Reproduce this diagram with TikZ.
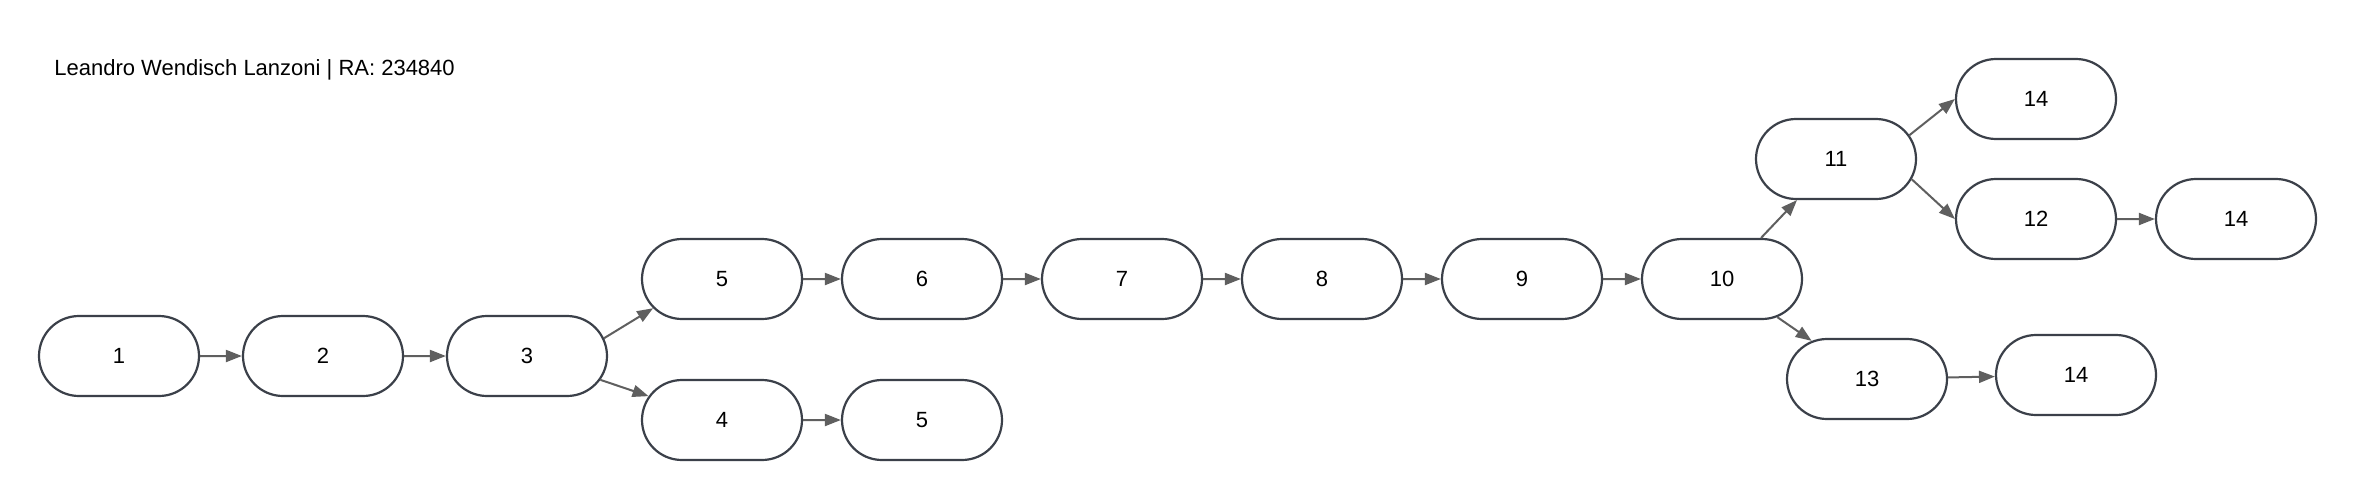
\documentclass[tikz,border=0pt]{standalone}
\usepackage{fontspec}
\setmainfont{Liberation Sans}
\usepackage{tikz}
\usetikzlibrary{shapes.misc,arrows.meta,positioning}

\definecolor{nodeline}{HTML}{3B4049}
\definecolor{arrowline}{HTML}{5F5F5F}

\begin{document}
\begin{tikzpicture}[
            every node/.style={on grid},
            node distance=100pt,
            state/.style={rounded rectangle,draw=nodeline,line width=1.1pt,fill=white,
                minimum width=80pt,minimum height=40pt,inner sep=0pt,
                font=\fontsize{11}{13}\selectfont},
            link/.style={draw=arrowline,line width=1pt,
                -{Triangle[length=8pt,width=6pt]}}
        ]
        \useasboundingbox (0,0) rectangle (1178pt,250pt);

        % Title %
        \node[anchor=base west,inner sep=0pt,font=\fontsize{11}{13}\selectfont] (title)
            at (27pt,212.5pt) {Leandro Wendisch Lanzoni | RA: 234840};

        % Draw first row %
        \node[state] (n1) at (59.5pt,72pt) {1};
        \node[state, right=102pt of n1] (n2) {2};
        \node[state, right=102pt of n2] (n3) {3};

        % Draw upper chain %
        \node[state, above right=38.5pt and 97.5pt of n3] (n5a) {5};
        \node[state, right=of n5a] (n6) {6};
        \node[state, right=of n6] (n7) {7};
        \node[state, right=of n7] (n8) {8};
        \node[state, right=of n8] (n9) {9};
        \node[state, right=of n9] (n10) {10};

        % Draw lower chain %
        \node[state, below right=32pt and 97.5pt of n3] (n4) {4};
        \node[state, right=of n4] (n5b) {5};

        % Draw branches %
        \node[state, above right=60pt and 57pt of n10] (n11) {11};
        \node[state, above right=30pt and 100pt of n11] (n14a) {14};
        \node[state, below right=30pt and 100pt of n11] (n12) {12};
        \node[state, right=of n12] (n14b) {14};
        \node[state, below right=50pt and 72.5pt of n10] (n13) {13};
        \node[state, above right=2pt and 104.5pt of n13] (n14c) {14};

        % Draw arrows %
        \foreach \from/\to in {n1/n2,n2/n3,n5a/n6,n6/n7,n7/n8,n8/n9,
                n9/n10,n4/n5b,n10/n11,n10/n13,n12/n14b,n13/n14c}
            \draw[link] (\from) -- (\to);
        \draw[link] (n3.13) -- (n5a.-157);
        \draw[link] (n3.-18) -- (n4.162);
        \draw[link] (n11.18) -- (n14a.west);
        \draw[link] (n11.-15) -- (n12.west);
        \end{tikzpicture}
\end{document}
